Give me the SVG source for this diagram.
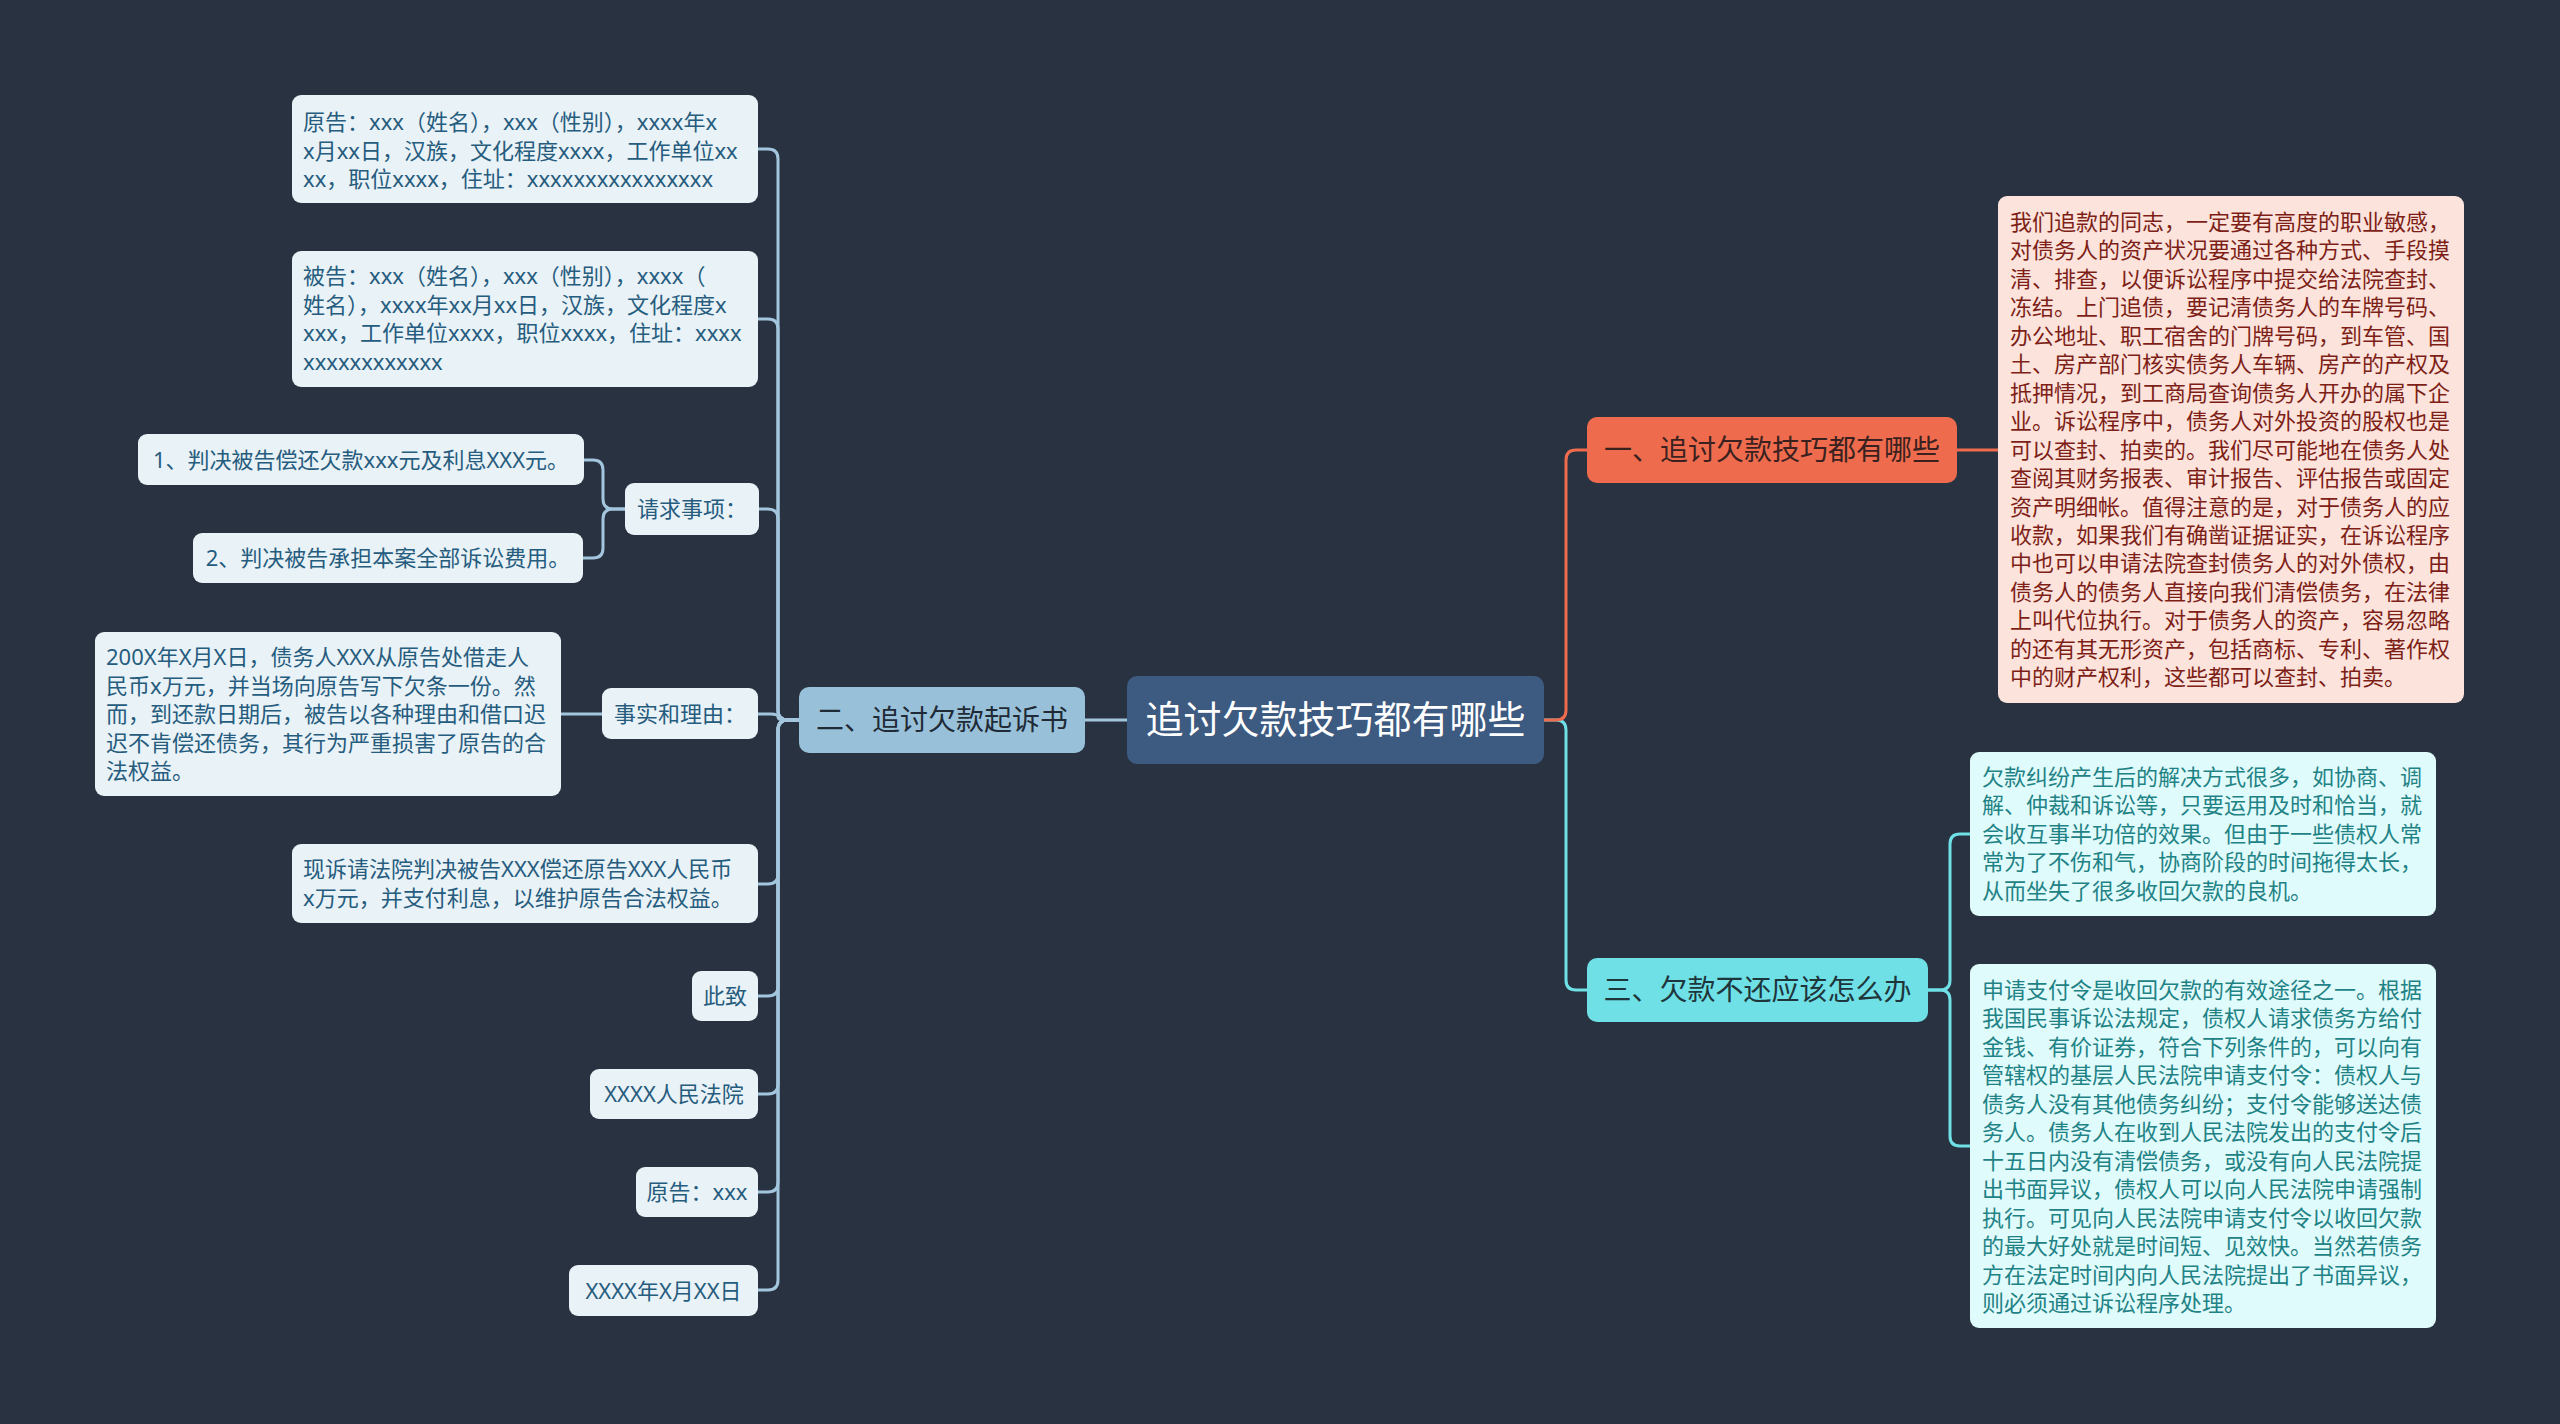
<svg xmlns="http://www.w3.org/2000/svg" width="2560" height="1424" viewBox="0 0 2560 1424">
<style>
text{font-family:"Noto Sans","Noto Sans CJK SC",sans-serif;}
.leaf{fill:#e9f2f7;}
.lt{font-size:22px;fill:#265c7e;}
.pink{fill:#fce3dc;}
.pt{font-size:22px;fill:#7d1f17;}
.teal{fill:#e0fbfc;}
.tt{font-size:22px;fill:#1f8285;}
.c{fill:none;stroke-width:3;stroke-linecap:round;}
.cb{stroke:#a3c6de;}
.co{stroke:#ee6c4d;}
.cc{stroke:#6ee0e6;}
.mid{text-anchor:middle;}
</style>
<rect x="0" y="0" width="2560" height="1424" fill="#293241"/>
<g id="connectors">
<path class="c cb" d="M1127 720 H1085"/>
<path class="c cb" d="M799 720 H788 Q778 720 778 710 V159 Q778 149 768 149 H758"/>
<path class="c cb" d="M799 720 H788 Q778 720 778 710 V329 Q778 319 768 319 H758"/>
<path class="c cb" d="M799 720 H788 Q778 720 778 710 V519 Q778 509 768 509 H759"/>
<path class="c cb" d="M799 720 H785 Q778 720 778 717 Q778 714 771 714 H758"/>
<path class="c cb" d="M799 720 H788 Q778 720 778 730 V874 Q778 884 768 884 H758"/>
<path class="c cb" d="M799 720 H788 Q778 720 778 730 V986 Q778 996 768 996 H758"/>
<path class="c cb" d="M799 720 H788 Q778 720 778 730 V1084 Q778 1094 768 1094 H758"/>
<path class="c cb" d="M799 720 H788 Q778 720 778 730 V1182 Q778 1192 768 1192 H758"/>
<path class="c cb" d="M799 720 H788 Q778 720 778 730 V1280 Q778 1290 768 1290 H758"/>
<path class="c cb" d="M625 509 H613 Q603 509 603 499 V470 Q603 460 593 460 H584"/>
<path class="c cb" d="M625 509 H613 Q603 509 603 519 V548 Q603 558 593 558 H583"/>
<path class="c cb" d="M602 714 H561"/>
<path class="c cc" d="M1544 720 H1556 Q1566 720 1566 730 V980 Q1566 990 1576 990 H1587"/>
<path class="c co" d="M1544 720 H1556 Q1566 720 1566 710 V460 Q1566 450 1576 450 H1587"/>
<path class="c co" d="M1957 450 H1998"/>
<path class="c cc" d="M1928 990 H1940 Q1950 990 1950 980 V844 Q1950 834 1960 834 H1970"/>
<path class="c cc" d="M1928 990 H1940 Q1950 990 1950 1000 V1136 Q1950 1146 1960 1146 H1970"/>
</g>
<g id="root">
<rect x="1127" y="676" width="417" height="88" rx="10" fill="#3d5a80"/>
<text x="1335.5" y="733" class="mid" font-size="38" fill="#ffffff">追讨欠款技巧都有哪些</text>
</g>
<g id="branch1">
<rect x="1587" y="417" width="370" height="66" rx="10" fill="#ee6c4d"/>
<text x="1772" y="460" class="mid" font-size="28" fill="#3a2120">一、追讨欠款技巧都有哪些</text>
</g>
<g id="branch2">
<rect x="799" y="687" width="286" height="66" rx="10" fill="#98c1d9"/>
<text x="942" y="730" class="mid" font-size="28" fill="#1f2a36">二、追讨欠款起诉书</text>
</g>
<g id="branch3">
<rect x="1587" y="958" width="341" height="64" rx="10" fill="#6ee0e6"/>
<text x="1757.5" y="1000" class="mid" font-size="28" fill="#1e353b">三、欠款不还应该怎么办</text>
</g>
<g id="leaf-pink">
<rect class="pink" x="1998" y="196" width="466" height="507" rx="9"/>
<text class="pt" x="2010" y="230">
<tspan x="2010" dy="0">我们追款的同志，一定要有高度的职业敏感，</tspan>
<tspan x="2010" dy="28.45">对债务人的资产状况要通过各种方式、手段摸</tspan>
<tspan x="2010" dy="28.45">清、排查，以便诉讼程序中提交给法院查封、</tspan>
<tspan x="2010" dy="28.45">冻结。上门追债，要记清债务人的车牌号码、</tspan>
<tspan x="2010" dy="28.45">办公地址、职工宿舍的门牌号码，到车管、国</tspan>
<tspan x="2010" dy="28.45">土、房产部门核实债务人车辆、房产的产权及</tspan>
<tspan x="2010" dy="28.45">抵押情况，到工商局查询债务人开办的属下企</tspan>
<tspan x="2010" dy="28.45">业。诉讼程序中，债务人对外投资的股权也是</tspan>
<tspan x="2010" dy="28.45">可以查封、拍卖的。我们尽可能地在债务人处</tspan>
<tspan x="2010" dy="28.45">查阅其财务报表、审计报告、评估报告或固定</tspan>
<tspan x="2010" dy="28.45">资产明细帐。值得注意的是，对于债务人的应</tspan>
<tspan x="2010" dy="28.45">收款，如果我们有确凿证据证实，在诉讼程序</tspan>
<tspan x="2010" dy="28.45">中也可以申请法院查封债务人的对外债权，由</tspan>
<tspan x="2010" dy="28.45">债务人的债务人直接向我们清偿债务，在法律</tspan>
<tspan x="2010" dy="28.45">上叫代位执行。对于债务人的资产，容易忽略</tspan>
<tspan x="2010" dy="28.45">的还有其无形资产，包括商标、专利、著作权</tspan>
<tspan x="2010" dy="28.45">中的财产权利，这些都可以查封、拍卖。</tspan>
</text>
</g>
<g id="leaf-teal1">
<rect class="teal" x="1970" y="752" width="466" height="164" rx="9"/>
<text class="tt" x="1982" y="785">
<tspan x="1982" dy="0">欠款纠纷产生后的解决方式很多，如协商、调</tspan>
<tspan x="1982" dy="28.4">解、仲裁和诉讼等，只要运用及时和恰当，就</tspan>
<tspan x="1982" dy="28.4">会收互事半功倍的效果。但由于一些债权人常</tspan>
<tspan x="1982" dy="28.4">常为了不伤和气，协商阶段的时间拖得太长，</tspan>
<tspan x="1982" dy="28.4">从而坐失了很多收回欠款的良机。</tspan>
</text>
</g>
<g id="leaf-teal2">
<rect class="teal" x="1970" y="964" width="466" height="364" rx="9"/>
<text class="tt" x="1982" y="998">
<tspan x="1982" dy="0">申请支付令是收回欠款的有效途径之一。根据</tspan>
<tspan x="1982" dy="28.45">我国民事诉讼法规定，债权人请求债务方给付</tspan>
<tspan x="1982" dy="28.45">金钱、有价证券，符合下列条件的，可以向有</tspan>
<tspan x="1982" dy="28.45">管辖权的基层人民法院申请支付令：债权人与</tspan>
<tspan x="1982" dy="28.45">债务人没有其他债务纠纷；支付令能够送达债</tspan>
<tspan x="1982" dy="28.45">务人。债务人在收到人民法院发出的支付令后</tspan>
<tspan x="1982" dy="28.45">十五日内没有清偿债务，或没有向人民法院提</tspan>
<tspan x="1982" dy="28.45">出书面异议，债权人可以向人民法院申请强制</tspan>
<tspan x="1982" dy="28.45">执行。可见向人民法院申请支付令以收回欠款</tspan>
<tspan x="1982" dy="28.45">的最大好处就是时间短、见效快。当然若债务</tspan>
<tspan x="1982" dy="28.45">方在法定时间内向人民法院提出了书面异议，</tspan>
<tspan x="1982" dy="28.45">则必须通过诉讼程序处理。</tspan>
</text>
</g>
<g id="leaf-plaintiff">
<rect class="leaf" x="292" y="95" width="466" height="108" rx="9"/>
<text class="lt" x="303" y="130">
<tspan x="303" dy="0">原告：xxx（姓名），xxx（性别），xxxx年x</tspan>
<tspan x="303" dy="28.5">x月xx日，汉族，文化程度xxxx，工作单位xx</tspan>
<tspan x="303" dy="28.5">xx，职位xxxx，住址：xxxxxxxxxxxxxxxx</tspan>
</text>
</g>
<g id="leaf-defendant">
<rect class="leaf" x="292" y="251" width="466" height="136" rx="9"/>
<text class="lt" x="303" y="284">
<tspan x="303" dy="0">被告：xxx（姓名），xxx（性别），xxxx（</tspan>
<tspan x="303" dy="28.5">姓名），xxxx年xx月xx日，汉族，文化程度x</tspan>
<tspan x="303" dy="28.5">xxx，工作单位xxxx，职位xxxx，住址：xxxx</tspan>
<tspan x="303" dy="28.5">xxxxxxxxxxxx</tspan>
</text>
</g>
<g id="node-claims">
<rect class="leaf" x="625" y="483" width="134" height="52" rx="9"/>
<text class="lt mid" x="692" y="517">请求事项：</text>
</g>
<g id="leaf-claim1">
<rect class="leaf" x="138" y="434" width="446" height="51" rx="9"/>
<text class="lt mid" x="361" y="467.5">1、判决被告偿还欠款xxx元及利息XXX元。</text>
</g>
<g id="leaf-claim2">
<rect class="leaf" x="193" y="533" width="390" height="50" rx="9"/>
<text class="lt mid" x="388" y="566">2、判决被告承担本案全部诉讼费用。</text>
</g>
<g id="node-facts">
<rect class="leaf" x="602" y="688" width="156" height="51" rx="9"/>
<text class="lt mid" x="680" y="721.5">事实和理由：</text>
</g>
<g id="leaf-facts">
<rect class="leaf" x="95" y="632" width="466" height="164" rx="9"/>
<text class="lt" x="106" y="665">
<tspan x="106" dy="0">200X年X月X日，债务人XXX从原告处借走人</tspan>
<tspan x="106" dy="28.5">民币x万元，并当场向原告写下欠条一份。然</tspan>
<tspan x="106" dy="28.5">而，到还款日期后，被告以各种理由和借口迟</tspan>
<tspan x="106" dy="28.5">迟不肯偿还债务，其行为严重损害了原告的合</tspan>
<tspan x="106" dy="28.5">法权益。</tspan>
</text>
</g>
<g id="leaf-request">
<rect class="leaf" x="292" y="844" width="466" height="79" rx="9"/>
<text class="lt" x="303" y="877">
<tspan x="303" dy="0">现诉请法院判决被告XXX偿还原告XXX人民币</tspan>
<tspan x="303" dy="28.5">x万元，并支付利息，以维护原告合法权益。</tspan>
</text>
</g>
<g id="leaf-cizhi">
<rect class="leaf" x="692" y="971" width="66" height="50" rx="9"/>
<text class="lt mid" x="725" y="1004">此致</text>
</g>
<g id="leaf-court">
<rect class="leaf" x="590" y="1069" width="168" height="50" rx="9"/>
<text class="lt mid" x="674" y="1102">XXXX人民法院</text>
</g>
<g id="leaf-sign">
<rect class="leaf" x="636" y="1167" width="122" height="50" rx="9"/>
<text class="lt mid" x="697" y="1200">原告：xxx</text>
</g>
<g id="leaf-date">
<rect class="leaf" x="569" y="1265" width="189" height="51" rx="9"/>
<text class="lt mid" x="663.5" y="1298.5">XXXX年X月XX日</text>
</g>
</svg>
